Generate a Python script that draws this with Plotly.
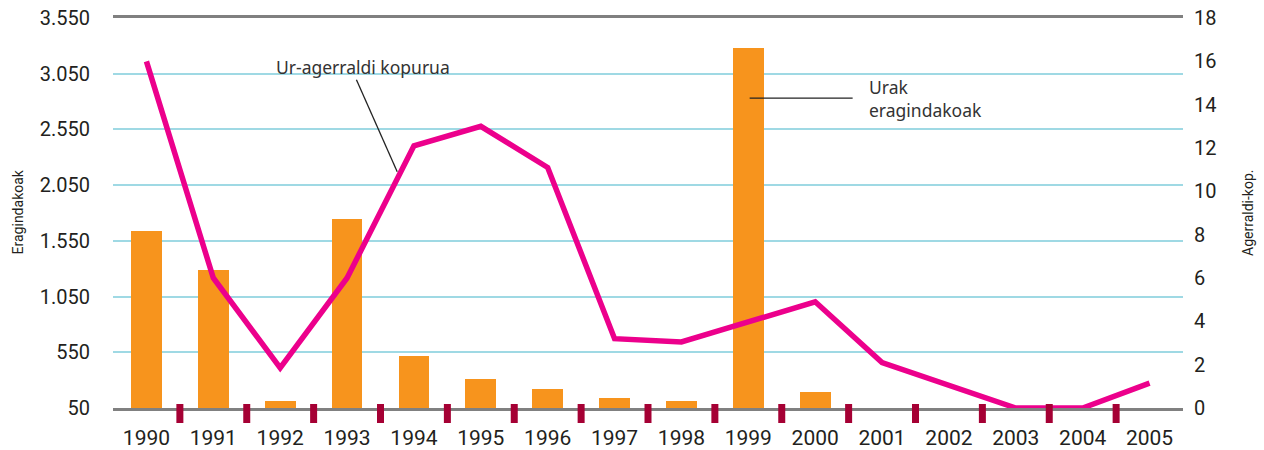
import plotly.graph_objects as go

# Years on the category axis
years = ["1990", "1991", "1992", "1993", "1994", "1995", "1996", "1997",
         "1998", "1999", "2000", "2001", "2002", "2003", "2004", "2005"]

# Affected people per year (left axis)
eragindakoak = [1640, 1290, 113, 1747, 517, 310, 221, 140,
                113, 3283, 194, 0, 0, 0, 0, 0]

# Number of water outbreaks per year (right axis)
agerraldiak = [16.0, 6.0, 1.85, 6.0, 12.1, 13.0, 11.1, 3.2,
               3.05, 3.95, 4.9, 2.1, 1.05, 0.0, 0.0, 1.15]

# Left axis ticks
left_ticks = [50, 550, 1050, 1550, 2050, 2550, 3050, 3550]
left_text = ["50", "550", "1.050", "1.550", "2.050", "2.550", "3.050", "3.550"]

# Right axis ticks
right_ticks = [0, 2, 4, 6, 8, 10, 12, 14, 16, 18]

idx = list(range(len(years)))
x_lo, x_hi = -0.5, len(years) - 0.5

ORANGE = "#F7941D"
MAGENTA = "#EC008C"
GRID = "#9FD9E4"
GREY = "#808080"
CRIMSON = "#A50034"
TXT = "#231F20"

fig = go.Figure()

fig.add_trace(go.Bar(
    x=idx, y=eragindakoak, width=0.46,
    marker=dict(color=ORANGE, line=dict(width=0)),
    yaxis="y", showlegend=False,
))

fig.add_trace(go.Scatter(
    x=idx, y=agerraldiak, mode="lines",
    line=dict(color=MAGENTA, width=5.5),
    yaxis="y2", showlegend=False,
))

# Separator marks between years, straddling the baseline
shapes = []
for i in range(len(years) - 1):
    px = (i + 0.5 - x_lo) / (x_hi - x_lo)
    shapes.append(dict(
        type="rect", xref="paper", yref="paper",
        xsizemode="pixel", xanchor=px, x0=-3.5, x1=3.5,
        ysizemode="pixel", yanchor=0, y0=-15, y1=4,
        fillcolor=CRIMSON, line=dict(width=0), layer="above",
    ))

# Leader lines for the labels
shapes.append(dict(type="line", xref="x", yref="y2",
                   x0=3.14, y0=15.15, x1=3.75, y1=10.9,
                   line=dict(color="#222222", width=1.3), layer="above"))
shapes.append(dict(type="line", xref="x", yref="y2",
                   x0=9.02, y0=14.3, x1=10.56, y1=14.3,
                   line=dict(color="#222222", width=1.3), layer="above"))

label_font = dict(family="Noto Sans", size=17.5, color="#333333")
title_font = dict(family="Roboto", size=14, color=TXT)

annotations = [
    dict(x=1.9, y=15.75, xref="x", yref="y2", text="Ur-agerraldi kopurua",
         showarrow=False, xanchor="left", yanchor="middle", font=label_font),
    dict(x=10.78, y=14.3, xref="x", yref="y2", text="Urak<br>eragindakoak",
         showarrow=False, xanchor="left", yanchor="middle", align="left",
         font=label_font),
    # Axis titles
    dict(x=-0.0888, y=0.504, xref="paper", yref="paper", text="Eragindakoak",
         textangle=-90, showarrow=False, xanchor="center", yanchor="middle",
         font=title_font),
    dict(x=1.0607, y=0.5, xref="paper", yref="paper", text="Agerraldi-kop.",
         textangle=-90, showarrow=False, xanchor="center", yanchor="middle",
         font=title_font),
]

fig.update_layout(
    width=1264, height=450,
    margin=dict(l=113, r=81, t=18, b=42, autoexpand=False),
    paper_bgcolor="white", plot_bgcolor="white",
    font=dict(family="Roboto", color=TXT),
    bargap=0,
    xaxis=dict(
        range=[x_lo, x_hi], tickmode="array", tickvals=idx, ticktext=years,
        showgrid=False, zeroline=False, automargin=False,
        showline=True, mirror=True, linecolor=GREY, linewidth=3,
        ticks="", ticklabelstandoff=9, tickfont=dict(size=21, color=TXT),
    ),
    yaxis=dict(
        range=[50, 3550], tickmode="array", tickvals=left_ticks, ticktext=left_text,
        showgrid=True, gridcolor=GRID, gridwidth=2, zeroline=False,
        showline=False, ticks="", ticklabelstandoff=22, automargin=False,
        tickfont=dict(size=20, color=TXT),
    ),
    yaxis2=dict(
        range=[0, 18], tickmode="array", tickvals=right_ticks,
        overlaying="y", side="right", automargin=False,
        showgrid=False, zeroline=False, showline=False, ticks="",
        ticklabelstandoff=10,
        tickfont=dict(size=20, color=TXT),
    ),
    shapes=shapes,
    annotations=annotations,
)

fig.write_html("out.html")
